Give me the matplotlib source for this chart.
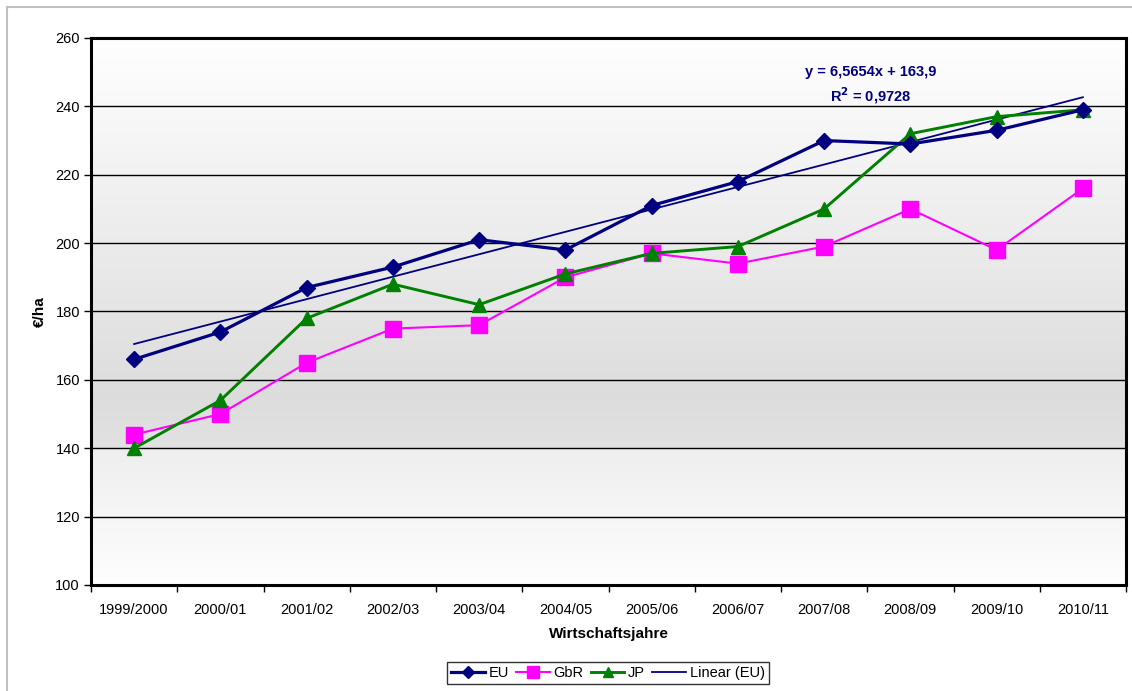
import numpy as np
import matplotlib
matplotlib.use("Agg")
import matplotlib.pyplot as plt
from matplotlib.patches import Rectangle

plt.rcParams['font.family'] = ['Liberation Sans', 'DejaVu Sans']

categories = ["1999/2000", "2000/01", "2001/02", "2002/03", "2003/04", "2004/05",
              "2005/06", "2006/07", "2007/08", "2008/09", "2009/10", "2010/11"]
eu = [166, 174, 187, 193, 201, 198, 211, 218, 230, 229, 233, 239]
gbr = [144, 150, 165, 175, 176, 190, 197, 194, 199, 210, 198, 216]
jp = [140, 154, 178, 188, 182, 191, 197, 199, 210, 232, 237, 239]
yticks = [100, 120, 140, 160, 180, 200, 220, 240, 260]

W, H = 1132, 691
fig = plt.figure(figsize=(W / 100, H / 100), dpi=100)
fig.patch.set_facecolor("white")
# outer chart border
fig.add_artist(Rectangle((7 / W, -0.01), 1.1, (H - 7) / H + 0.01, transform=fig.transFigure,
                         fill=False, edgecolor="#c0c0c0", linewidth=1.5))

x0, x1, y0, y1 = 91, 1126, 38, 585
ax = fig.add_axes([x0 / W, 1 - y1 / H, (x1 - x0) / W, (y1 - y0) / H])

n = len(categories)
x = np.arange(1, n + 1)
ax.set_xlim(0.5, n + 0.5)
ax.set_ylim(100, 260)

# background gradient
yy = np.linspace(100, 260, 400)
def shade(v):
    if v >= 140:
        return np.interp(v, [140, 155, 260], [0.885, 0.865, 1.0])
    return np.interp(v, [100, 140], [0.995, 0.935])
g = np.array([shade(v) for v in yy])[::-1]
img = np.repeat(g[:, None], 2, axis=1)
ax.imshow(np.dstack([img, img, img]), extent=[0.5, n + 0.5, 100, 260], aspect="auto",
          zorder=0, interpolation="bilinear")

for t in yticks[1:-1]:
    ax.axhline(t, color="black", linewidth=1.0, zorder=1)

# trend line
coef = np.polyfit(x, eu, 1)
l_lin, = ax.plot(x, np.polyval(coef, x), color="#000080", linewidth=1.3, zorder=2,
                 label="Linear (EU)")

l_eu, = ax.plot(x, eu, color="#000080", linewidth=2.3, marker="D", markersize=8,
                zorder=5, label="EU")
l_gbr, = ax.plot(x, gbr, color="#FF00FF", linewidth=1.5, marker="s", markersize=11,
                 zorder=3, label="GbR")
l_jp, = ax.plot(x, jp, color="#008000", linewidth=2.1, marker="^", markersize=10,
                zorder=4, label="JP")

ax.set_yticks(yticks)
ax.set_yticklabels([str(t) for t in yticks], fontsize=10.5)
ax.set_xticks(np.arange(0.5, n + 1.5, 1))
ax.set_xticklabels([])
ax.set_xticks(x, minor=True)
ax.set_xticklabels(categories, minor=True, fontsize=10.5)
ax.tick_params(axis="x", which="minor", length=0, pad=13)
ax.tick_params(axis="x", which="major", length=5, width=1, direction="out")
ax.tick_params(axis="y", length=5, width=1, direction="out", pad=3)

for s in ax.spines.values():
    s.set_linewidth(2.2)
    s.set_color("black")

ax.set_ylabel("€/ha", fontsize=11, fontweight="bold", labelpad=6)
ax.set_xlabel("Wirtschaftsjahre", fontsize=11, fontweight="bold", labelpad=7)

ax.text(0.753, 0.938, "y = 6,5654x + 163,9", transform=ax.transAxes, ha="center",
        va="center", fontsize=10.5, fontweight="bold", color="#000080")
ax.text(0.753, 0.894, r"R$^\mathbf{2}$ = 0,9728", transform=ax.transAxes, ha="center",
        va="center", fontsize=10.5, fontweight="bold", color="#000080")

leg = fig.legend([l_eu, l_gbr, l_jp, l_lin], ["EU", "GbR", "JP", "Linear (EU)"], loc="center",
                 bbox_to_anchor=(608 / W, 1 - 673 / H), ncol=4, frameon=True,
                 fancybox=False, edgecolor="black", fontsize=10.5, handlelength=2.3,
                 handletextpad=0.25, columnspacing=0.5, borderpad=0.3, markerscale=0.75)
leg.get_frame().set_linewidth(1.0)

fig.savefig("out.png", dpi=100)
